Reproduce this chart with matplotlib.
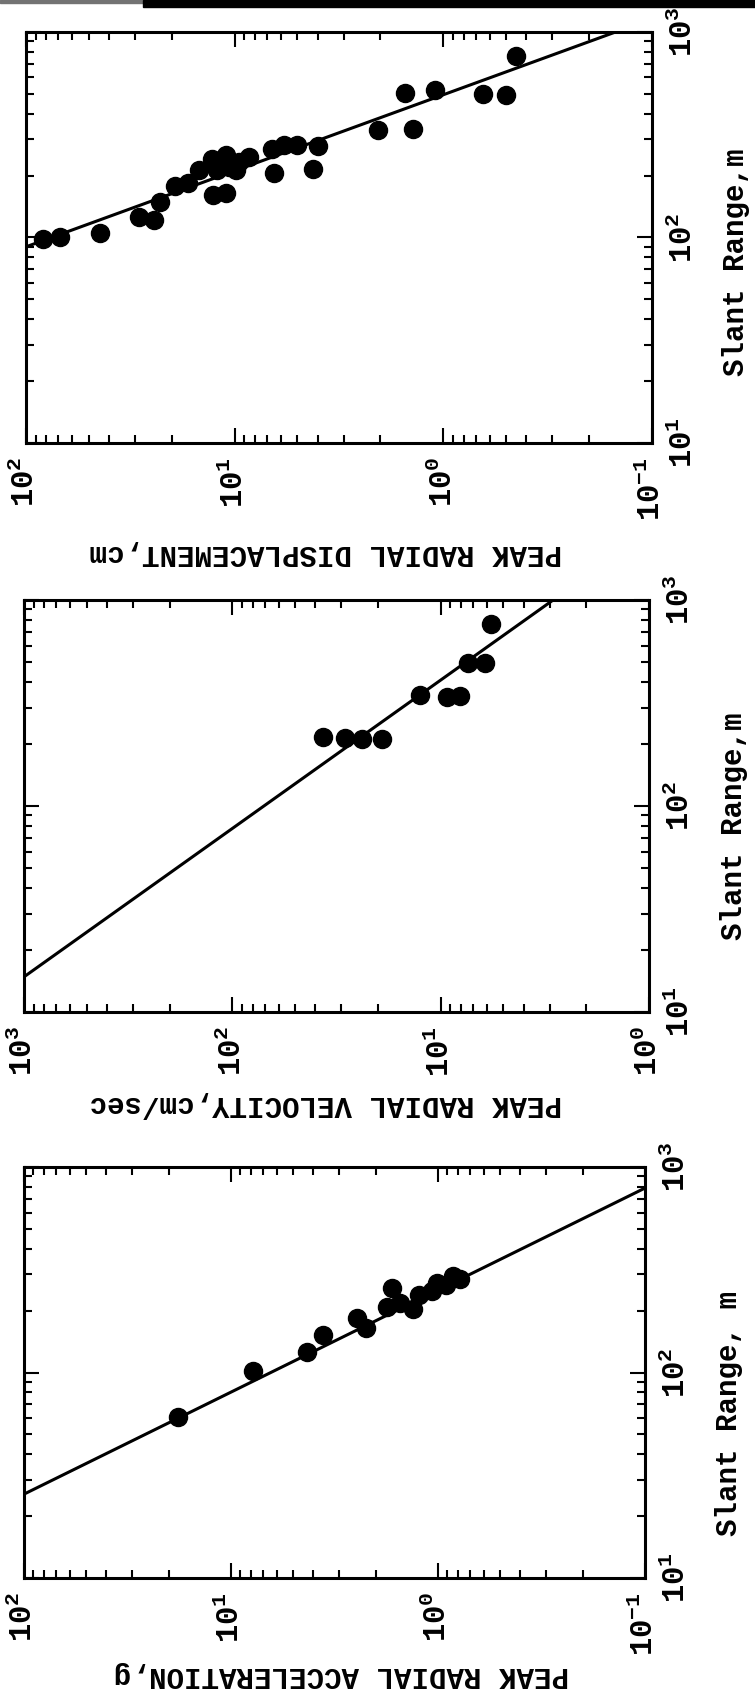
import matplotlib
matplotlib.use('Agg')
import numpy as np
import matplotlib.pyplot as plt
from matplotlib.ticker import LogLocator, NullFormatter
from matplotlib.patches import Rectangle

# typewriter look of the scanned report
plt.rcParams['font.family'] = ['Liberation Mono', 'DejaVu Sans Mono']
plt.rcParams['font.weight'] = 'bold'
plt.rcParams['axes.labelweight'] = 'bold'
plt.rcParams['mathtext.fontset'] = 'custom'
plt.rcParams['mathtext.rm'] = 'Liberation Mono:bold'
plt.rcParams['mathtext.it'] = 'Liberation Mono:bold'
plt.rcParams['mathtext.bf'] = 'Liberation Mono:bold'

# ---- data (slant range in m, peak values) ----
disp_range = [98, 101, 105, 125, 122, 148, 178, 185, 213, 240, 213, 252, 221, 213, 234, 247,
              161, 165, 269, 282, 282, 277, 205, 215, 333, 336, 504, 522, 499, 493, 764]
disp_value = [82.7, 68.8, 44.3, 28.7, 24.4, 22.9, 19.4, 16.7, 14.8, 12.9, 12.2, 11.0, 10.6, 9.8, 9.5, 8.5,
              12.7, 11.0, 6.6, 5.8, 5.0, 4.0, 6.5, 4.2, 2.06, 1.39, 1.52, 1.10, 0.644, 0.501, 0.449]
disp_fit_range = [90, 1000]
disp_fit_value = [100, 0.149]

vel_range = [762, 493, 493, 346, 337, 343, 215, 213, 211, 211]
vel_value = [5.75, 7.36, 6.12, 12.6, 9.35, 8.07, 36.6, 28.8, 23.9, 19.2]
vel_fit_range = [14.8, 1000]
vel_fit_value = [1000, 2.88]

acc_range = [60.7, 102, 126, 153, 184, 165, 208, 258, 218, 204, 239, 248, 273, 267, 294, 285]
acc_value = [18.0, 7.8, 4.28, 3.6, 2.45, 2.23, 1.76, 1.66, 1.53, 1.32, 1.24, 1.07, 1.01, 0.91, 0.85, 0.78]
acc_fit_range = [25.6, 790]
acc_fit_value = [100, 0.1]

range_ticks = [10, 100, 1000]
range_labels = ['$10^{1}$', '$10^{2}$', '$10^{3}$']
ticks_a = [100, 10, 1, 0.1]
labels_a = ['$10^{2}$', '$10^{1}$', '$10^{0}$', '$10^{-1}$']
ticks_b = [1000, 100, 10, 1]
labels_b = ['$10^{3}$', '$10^{2}$', '$10^{1}$', '$10^{0}$']

fig = plt.figure(figsize=(7.55, 16.97), dpi=100)

# scan border at the top of the page
fig.patches.append(Rectangle((0.0, 1 - 3 / 1697), 0.19, 3 / 1697, transform=fig.transFigure,
                             color='0.45', zorder=0))
fig.patches.append(Rectangle((0.19, 1 - 7 / 1697), 0.81, 7 / 1697, transform=fig.transFigure,
                             color='black', zorder=0))


def panel(rect, rng, val, fit_r, fit_v, vticks, vlabels, vtitle, rtitle, vt_xy, rt_xy):
    ax = fig.add_axes(rect)
    # page is turned: peak value runs right-to-left, slant range bottom-to-top
    ax.plot(val, rng, 'o', color='black', markersize=13, zorder=3)
    ax.plot(fit_v, fit_r, '-', color='black', linewidth=2.2)
    ax.set_xscale('log')
    ax.set_yscale('log')
    ax.set_xlim(vticks[0], vticks[-1])
    ax.set_ylim(10, 1000)

    ax.set_xticks(vticks)
    ax.set_xticklabels(vlabels, rotation=90, fontsize=22)
    ax.xaxis.set_minor_locator(LogLocator(base=10, subs=np.arange(2, 10), numticks=20))
    ax.xaxis.set_minor_formatter(NullFormatter())

    ax.yaxis.tick_right()
    ax.set_yticks(range_ticks)
    ax.set_yticklabels(range_labels, rotation=90, va='center', fontsize=22)
    ax.yaxis.set_minor_locator(LogLocator(base=10, subs=np.arange(2, 10), numticks=20))
    ax.yaxis.set_minor_formatter(NullFormatter())

    ax.tick_params(which='both', direction='in', top=True, bottom=True, left=True, right=True,
                   labelleft=False, labelright=True, labeltop=False, labelbottom=True)
    ax.tick_params(which='major', length=11, width=1.5)
    ax.tick_params(which='minor', length=5.5, width=1.5)
    ax.tick_params(axis='x', pad=10)
    ax.tick_params(axis='y', pad=12)
    for s in ax.spines.values():
        s.set_linewidth(2.2)

    ax.set_xlabel(vtitle, rotation=180, fontsize=21, fontweight='bold')
    ax.xaxis.label.set_va('center')
    ax.xaxis.set_label_coords(*vt_xy)
    ax.yaxis.set_label_position('right')
    ax.set_ylabel(rtitle, rotation=90, fontsize=21, fontweight='bold')
    ax.yaxis.label.set_va('center')
    ax.yaxis.set_label_coords(*rt_xy)
    return ax


panel([0.0344, 0.7390, 0.8291, 0.2422], disp_range, disp_value, disp_fit_range, disp_fit_value,
      ticks_a, labels_a, 'PEAK RADIAL DISPLACEMENT,cm', 'Slant Range,m',
      (0.479, -0.268), (1.134, 0.44))
panel([0.0318, 0.4037, 0.8278, 0.2428], vel_range, vel_value, vel_fit_range, vel_fit_value,
      ticks_b, labels_b, 'PEAK RADIAL VELOCITY,cm/sec', 'Slant Range,m',
      (0.482, -0.224), (1.136, 0.45))
panel([0.0318, 0.0701, 0.8225, 0.2422], acc_range, acc_value, acc_fit_range, acc_fit_value,
      ticks_a, labels_a, 'PEAK RADIAL ACCELERATION,g', 'Slant Range, m',
      (0.512, -0.237), (1.135, 0.40))

fig.savefig('out.png', dpi=100)
